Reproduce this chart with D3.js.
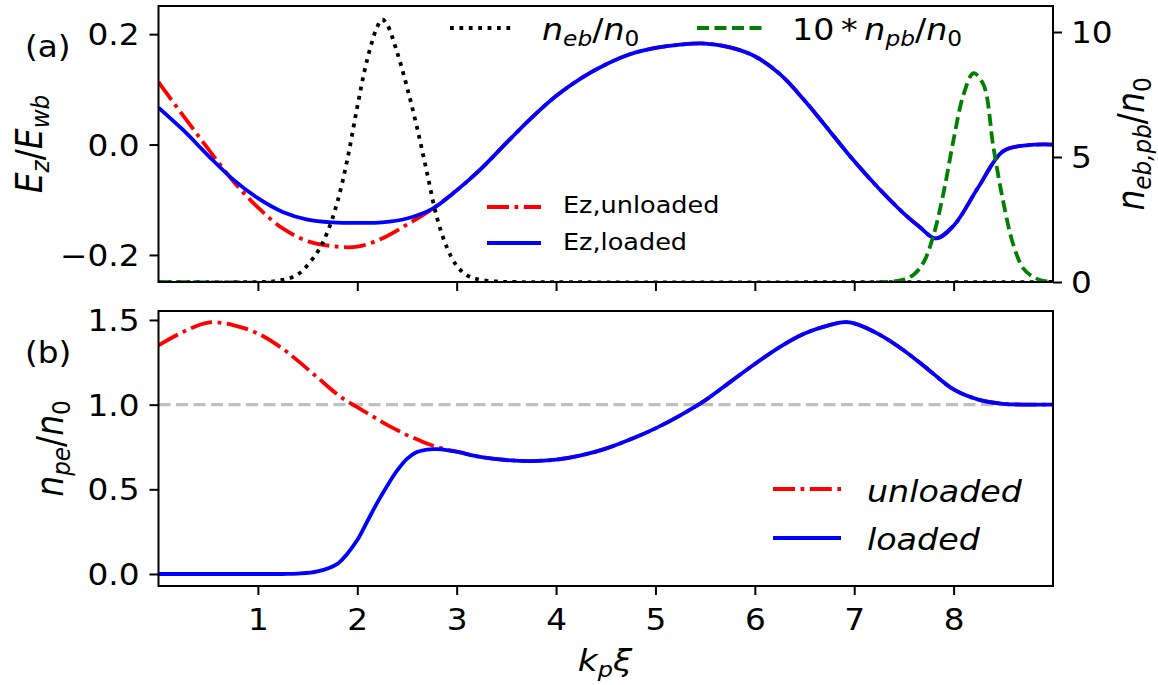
<!DOCTYPE html>
<html>
<head>
<meta charset="utf-8">
<script src="https://cdn.jsdelivr.net/npm/d3@7"></script>
<style>
  body { margin: 0; background: #fff; }
  text { font-family: "DejaVu Sans", sans-serif; fill: #000; }
</style>
</head>
<body>
<svg id="chart" width="1158" height="685"></svg>
<script>
// ---- data ----
// panel (a): longitudinal field
var xiEz = [0,0.25,0.5,0.75,1,1.25,1.5,1.75,2,2.25,2.5,2.75,3,3.25,3.5,3.75,4,4.25,4.5,4.75,5,5.25,5.5,5.75,6,6.25,6.5,6.75,7,7.25,7.5,7.65,7.82,8,8.25,8.5,8.75,9];
var ezUnloaded = [0.113,0.052,-0.008,-0.066,-0.114,-0.152,-0.175,-0.184,-0.185,-0.17,-0.145,-0.117,
  -0.083,-0.043,0.003,0.048,0.088,0.12,0.145,0.164,0.175,0.181,0.183,0.176,0.16,0.128,0.08,0.025,
  -0.03,-0.08,-0.125,-0.148,-0.17,-0.147,-0.077,-0.012,-0.001,0];
var ezLoaded = [0.067,0.026,-0.02,-0.063,-0.097,-0.122,-0.136,-0.141,-0.142,-0.141,-0.134,-0.117,
  -0.083,-0.043,0.003,0.048,0.088,0.12,0.145,0.164,0.175,0.181,0.183,0.176,0.16,0.128,0.08,0.025,
  -0.03,-0.08,-0.125,-0.148,-0.17,-0.147,-0.077,-0.012,-0.001,0];

// panel (a), right axis: drive beam and 10x witness beam
var xiEb = [0,1,1.2,1.4,1.6,1.7,1.8,1.9,2,2.1,2.2,2.25,2.3,2.4,2.5,2.6,2.7,2.8,2.9,3,3.1,3.2,3.4,3.6,9];
var nEb = [0,0,0.05,0.3,1.2,2.0,3.2,4.9,7.0,8.9,10.2,10.5,10.3,9.2,7.8,6.2,4.4,2.6,1.4,0.65,0.28,0.12,0.02,0,0];
var xiPb = [0,7.4,7.5,7.6,7.7,7.8,7.9,8,8.1,8.2,8.3,8.4,8.5,8.6,8.7,8.8,8.9,9];
var nPb10 = [0,0.02,0.1,0.3,0.8,1.9,3.6,5.7,7.5,8.35,7.9,5.4,3.2,1.5,0.55,0.2,0.05,0];

// panel (b): plasma electron density
var xiNpe = [0,0.25,0.5,0.75,1,1.25,1.4,1.6,1.8,1.9,2,2.1,2.2,2.3,2.4,2.5,2.6,2.7,2.8,2.9,3,
  3.25,3.5,3.75,4,4.25,4.5,4.75,5,5.25,5.5,5.75,6,6.25,6.5,6.75,6.9,7,7.25,7.5,7.75,8,8.25,8.5,8.75,9];
var npeUnloaded = [1.35,1.43,1.485,1.47,1.42,1.33,1.26,1.16,1.06,1.02,0.985,0.95,0.915,0.88,0.85,0.82,0.795,0.77,0.75,0.735,0.722,
  0.69,0.673,0.667,0.675,0.70,0.74,0.795,0.86,0.937,1.025,1.133,1.24,1.34,1.42,1.47,1.487,1.48,1.415,1.32,1.205,1.09,1.03,1.005,1.0,1.0];
var npeLoaded = [0,0,0,0,0,0,0.002,0.015,0.06,0.12,0.2,0.31,0.42,0.52,0.61,0.68,0.72,0.735,0.737,0.732,0.722,
  0.69,0.673,0.667,0.675,0.70,0.74,0.795,0.86,0.937,1.025,1.133,1.24,1.34,1.42,1.47,1.487,1.48,1.415,1.32,1.205,1.09,1.03,1.005,1.0,1.0];
var npeRef = 1.0;

var xTicks = [1,2,3,4,5,6,7,8];
var ezTicks = [-0.2,0,0.2];
var nbTicks = [0,5,10];
var npeTicks = [0,0.5,1.0,1.5];

// ---- layout ----
var SX = 1.11; // glyphs in the reference are a little wider than tall
var svg = d3.select("#chart");
svg.append("rect").attr("width",1158).attr("height",685).attr("fill","#fff");

var left = 158.5, right = 1053;
var topA = {t: 6, b: 282}, topB = {t: 311, b: 586};

var x = d3.scaleLinear().domain([0,9]).range([left,right]);
var yEz = d3.scaleLinear().domain([-0.249,0.251]).range([topA.b,topA.t]);
var yNb = d3.scaleLinear().domain([0,11.04]).range([topA.b,topA.t]);
var yNpe = d3.scaleLinear().domain([-0.071,1.553]).range([topB.b,topB.t]);

var fmt1 = d3.format(".1f");
var TICK_FS = 29.5;
var LW = 3.8;

// mathtext-like label: parts are [text, style] with style "i","n","is","ns"
function mathText(g, parts, size) {
  var t = g.append("text").attr("font-size", size);
  var shift = 0;
  parts.forEach(function(p) {
    var sub = p[1].indexOf("s") >= 0;
    var target = sub ? 0.2*size : 0;
    t.append("tspan").text(p[0])
      .attr("dy", target - shift)
      .attr("font-size", sub ? size*0.7 : size)
      .attr("font-style", p[1].indexOf("i") === 0 ? "italic" : "normal");
    shift = target;
  });
  return t;
}

function clip(id, box) {
  svg.append("clipPath").attr("id", id).append("rect")
    .attr("x", left).attr("y", box.t).attr("width", right-left).attr("height", box.b-box.t);
}
clip("clipA", topA);
clip("clipB", topB);

function curve(g, xs, ys, yScale, color, dash) {
  var line = d3.line()
    .x(function(d,i){ return x(xs[i]); })
    .y(function(d){ return yScale(d); })
    .curve(d3.curveCatmullRom.alpha(0.5));
  g.append("path").datum(ys)
    .attr("d", line)
    .attr("fill","none")
    .attr("stroke", color)
    .attr("stroke-width", LW)
    .attr("stroke-dasharray", dash || null);
}

var DASHDOT = "22,5.5,3.8,5.5", DASHED = "12,5.5", DOTTED = "3.8,5.6";

// ---- panel (a) ----
var gA = svg.append("g").attr("clip-path","url(#clipA)");
curve(gA, xiEz, ezUnloaded, yEz, "#ff0000", DASHDOT);
curve(gA, xiEz, ezLoaded, yEz, "#0000ff");
curve(gA, xiEb, nEb, yNb, "#000000", DOTTED);
curve(gA, xiPb, nPb10, yNb, "#008000", DASHED);

// ---- panel (b) ----
var gB = svg.append("g").attr("clip-path","url(#clipB)");
gB.append("line")
  .attr("x1", x(0)).attr("x2", x(9))
  .attr("y1", yNpe(npeRef)).attr("y2", yNpe(npeRef))
  .attr("stroke","#c0c0c0").attr("stroke-width",3.4).attr("stroke-dasharray", DASHED);
curve(gB, xiNpe, npeUnloaded, yNpe, "#ff0000", DASHDOT);
curve(gB, xiNpe, npeLoaded, yNpe, "#0000ff");

// ---- axes ----
function styleAxis(g, tf) {
  g.select(".domain").remove();
  g.selectAll(".tick line").attr("stroke","#000").attr("stroke-width",2);
  g.selectAll(".tick text").attr("font-size", TICK_FS).attr("font-family","DejaVu Sans")
    .attr("x", null).attr("y", null).attr("transform", tf);
}

// left axes
var axA = svg.append("g").attr("transform","translate("+left+",0)")
  .call(d3.axisLeft(yEz).tickValues(ezTicks).tickFormat(fmt1).tickSize(9));
styleAxis(axA, "translate(-19,0) scale("+SX+",1)");
axA.selectAll(".tick text").attr("dy","0.36em");

var axB = svg.append("g").attr("transform","translate("+left+",0)")
  .call(d3.axisLeft(yNpe).tickValues(npeTicks).tickFormat(fmt1).tickSize(9));
styleAxis(axB, "translate(-19,0) scale("+SX+",1)");
axB.selectAll(".tick text").attr("dy","0.36em");

// right axis of panel (a)
var axR = svg.append("g").attr("transform","translate("+right+",0)")
  .call(d3.axisRight(yNb).tickValues(nbTicks).tickFormat(d3.format("d")).tickSize(9));
styleAxis(axR, "translate(18,0) scale("+SX+",1)");
axR.selectAll(".tick text").attr("dy","0.36em");

// bottom axes (panel (a) without labels)
var axXA = svg.append("g").attr("transform","translate(0,"+topA.b+")")
  .call(d3.axisBottom(x).tickValues(xTicks).tickSize(9));
axXA.select(".domain").remove();
axXA.selectAll(".tick text").remove();
axXA.selectAll(".tick line").attr("stroke","#000").attr("stroke-width",2);

var axXB = svg.append("g").attr("transform","translate(0,"+topB.b+")")
  .call(d3.axisBottom(x).tickValues(xTicks).tickFormat(d3.format("d")).tickSize(9));
styleAxis(axXB, "translate(0,23) scale("+SX+",1)");
axXB.selectAll(".tick text").attr("dy","0.71em");

// frames
[topA, topB].forEach(function(b) {
  svg.append("rect").attr("x", left).attr("y", b.t)
    .attr("width", right-left).attr("height", b.b-b.t)
    .attr("fill","none").attr("stroke","#000").attr("stroke-width",2);
});

// ---- labels ----
function placed(xp, yp, rot) {
  return svg.append("g").attr("transform",
    "translate("+xp+","+yp+") scale("+SX+",1)" + (rot ? " rotate(-90)" : ""));
}

placed(25, 57).append("text").attr("font-size", 29.5).text("(a)");
placed(25, 363).append("text").attr("font-size", 29.5).text("(b)");

mathText(placed(42, 144, true), [["E","i"],["z","is"],["/","n"],["E","i"],["wb","is"]], 33)
  .attr("text-anchor","middle");
mathText(placed(63, 448.5, true), [["n","i"],["pe","is"],["/","n"],["n","i"],["0","ns"]], 33)
  .attr("text-anchor","middle");
mathText(placed(1144, 144, true), [["n","i"],["eb,pb","is"],["/","n"],["n","i"],["0","ns"]], 33)
  .attr("text-anchor","middle");
mathText(placed(605, 671), [["k","i"],["p","is"],["\u03be","i"]], 31)
  .attr("text-anchor","middle");

// ---- legends ----
function sample(x1, x2, yp, color, dash) {
  svg.append("line").attr("x1",x1).attr("x2",x2).attr("y1",yp).attr("y2",yp)
    .attr("stroke",color).attr("stroke-width",LW).attr("stroke-dasharray",dash || null);
}

// figure legend across the top
sample(450, 514, 28, "#000", DOTTED);
mathText(placed(542, 40), [["n","i"],["eb","is"],["/","n"],["n","i"],["0","ns"]], 30);
sample(697, 764, 28, "#008000", DASHED);
mathText(placed(792, 40), [["10\u2009*\u2009","n"],["n","i"],["pb","is"],["/","n"],["n","i"],["0","ns"]], 30);

// field legend in panel (a)
sample(487, 541, 207, "#ff0000", DASHDOT);
placed(563, 213).append("text").attr("font-size", 23).text("Ez,unloaded");
sample(487, 541, 243, "#0000ff");
placed(563, 250).append("text").attr("font-size", 23).text("Ez,loaded");

// density legend in panel (b)
sample(773, 841, 489, "#ff0000", DASHDOT);
placed(867, 502).append("text").attr("font-size", 30).attr("font-style","italic").text("unloaded");
sample(773, 841, 538, "#0000ff");
placed(867, 550).append("text").attr("font-size", 30).attr("font-style","italic").text("loaded");
</script>
</body>
</html>
